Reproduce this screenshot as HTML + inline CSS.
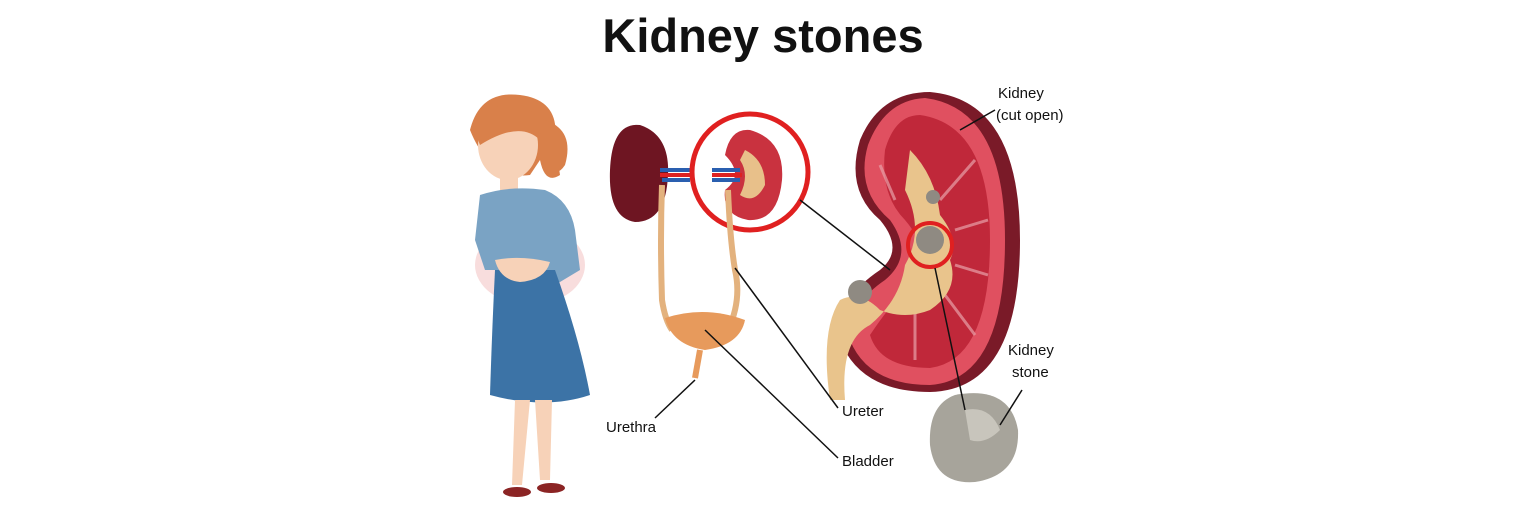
<!DOCTYPE html>
<html><head><meta charset="utf-8"><style>
html,body{margin:0;padding:0;background:#fff;width:1536px;height:512px;overflow:hidden}
svg text{font-family:"Liberation Sans",sans-serif}
</style></head><body>
<svg width="1536" height="512" viewBox="0 0 1536 512" xmlns="http://www.w3.org/2000/svg">
<rect width="1536" height="512" fill="#fff"/>
<text x="763" y="52" font-size="47" font-weight="bold" text-anchor="middle" fill="#111">Kidney stones</text>

<!-- Woman -->
<ellipse cx="530" cy="265" rx="55" ry="40" fill="#f4c7c7" opacity="0.6"/>
<path d="M470 130 Q480 90 520 95 Q560 100 555 140 L560 175 Q545 185 540 160 L530 175 Q490 180 470 130Z" fill="#d9804a"/>
<ellipse cx="508" cy="145" rx="30" ry="35" fill="#f7d2b8"/>
<path d="M478 140 Q480 100 520 105 Q545 115 540 140 Q520 120 480 145Z" fill="#d9804a"/>
<path d="M545 120 Q575 130 565 165 Q555 180 550 160Z" fill="#d9804a"/>
<rect x="500" y="175" width="18" height="18" fill="#f7d2b8"/>
<path d="M480 195 Q510 185 545 190 Q570 200 575 230 L580 270 L555 285 L545 270 L500 270 L485 270 L475 240 Z" fill="#7aa3c4"/>
<path d="M495 270 L555 270 Q580 340 590 395 Q545 410 490 395 Q492 330 495 270Z" fill="#3c73a6"/>
<path d="M495 260 Q520 255 550 262 Q545 280 520 282 Q500 280 495 260Z" fill="#f7d2b8"/>
<path d="M515 400 L512 485 L522 485 L530 400Z M535 400 L540 480 L550 480 L552 400Z" fill="#f7d2b8"/>
<ellipse cx="517" cy="492" rx="14" ry="5" fill="#8b2424"/>
<ellipse cx="551" cy="488" rx="14" ry="5" fill="#8b2424"/>

<!-- small kidney left -->
<path d="M640 125 Q670 135 668 175 Q666 222 635 222 Q608 218 610 170 Q612 122 640 125Z" fill="#6e1522"/>
<path d="M660 170 L690 170 M662 180 L690 180" stroke="#2a5fb0" stroke-width="4"/>
<path d="M660 175 L690 175" stroke="#d22" stroke-width="4"/>
<path d="M662 185 Q660 240 662 300 Q665 320 672 330" stroke="#e3b27e" stroke-width="6" fill="none"/>
<!-- circled kidney -->
<circle cx="750" cy="172" r="58" fill="#fff" stroke="#e02020" stroke-width="5"/>
<path d="M750 130 Q785 140 782 180 Q778 222 748 220 Q722 215 725 190 Q745 175 725 155 Q730 128 750 130Z" fill="#c9323f"/>
<path d="M745 150 Q765 160 765 185 Q755 205 740 195 Q750 175 740 160Z" fill="#e8c08a"/>
<path d="M712 170 L740 170 M712 180 L740 180" stroke="#2a5fb0" stroke-width="4"/>
<path d="M712 175 L742 175" stroke="#d22" stroke-width="4"/>
<path d="M728 190 Q730 240 735 270 Q742 300 728 330" stroke="#e3b27e" stroke-width="6" fill="none"/>
<!-- bladder -->
<path d="M665 318 Q705 305 745 320 Q740 345 705 350 Q672 345 665 318Z" fill="#e79a5c"/>
<path d="M700 350 L695 378" stroke="#e79a5c" stroke-width="6"/>

<!-- big kidney -->
<path d="M930 92 Q1020 100 1020 240 Q1020 390 930 392 Q860 392 840 340 Q835 300 880 270 Q905 250 880 220 Q845 190 860 140 Q880 92 930 92Z" fill="#7a1a28"/>
<path d="M925 98 Q1005 108 1005 240 Q1005 380 930 385 Q868 385 850 340 Q848 305 885 280 Q915 255 890 220 Q855 190 868 145 Q885 100 925 98Z" fill="#e05060"/>
<path d="M920 115 Q990 125 990 240 Q990 360 930 368 Q880 368 870 335 Q890 305 910 285 Q935 255 905 220 Q880 195 885 150 Q895 115 920 115Z" fill="#c0283a"/>
<g stroke="#e8a0a8" stroke-width="3" opacity="0.7">
<path d="M940 200 L975 160 M955 230 L988 220 M955 265 L988 275 M945 295 L975 335 M915 310 L915 360 M895 200 L880 165"/>
</g>
<path d="M910 150 Q935 175 940 215 Q960 240 950 260 Q960 290 930 310 Q905 320 880 310 Q860 290 840 300 Q820 330 830 400 L845 400 Q840 340 870 325 Q900 300 905 265 Q925 230 905 190Z" fill="#e9c48c"/>
<circle cx="930" cy="240" r="14" fill="#8f8a82"/>
<circle cx="930" cy="245" r="22" fill="none" stroke="#e02020" stroke-width="4"/>
<circle cx="860" cy="292" r="12" fill="#8f8a82"/>
<circle cx="933" cy="197" r="7" fill="#8f8a82"/>

<!-- stone -->
<path d="M955 395 Q1010 385 1018 430 Q1020 475 975 482 Q935 485 930 445 Q928 405 955 395Z" fill="#a7a49b"/>
<path d="M965 410 Q990 405 1000 430 Q985 445 970 440Z" fill="#c8c5bc"/>

<!-- leader lines -->
<g stroke="#111" stroke-width="1.5" fill="none">
<path d="M800 200 L890 270"/>
<path d="M960 130 L995 110"/>
<path d="M935 268 L965 410"/>
<path d="M1000 425 L1022 390"/>
<path d="M735 268 L838 408"/>
<path d="M705 330 L838 458"/>
<path d="M695 380 L655 418"/>
</g>
<g font-size="15" fill="#111">
<text x="998" y="98">Kidney</text>
<text x="996" y="120">(cut open)</text>
<text x="1008" y="355">Kidney</text>
<text x="1012" y="377">stone</text>
<text x="842" y="416">Ureter</text>
<text x="842" y="466">Bladder</text>
<text x="606" y="432">Urethra</text>
</g>
</svg>
</body></html>
